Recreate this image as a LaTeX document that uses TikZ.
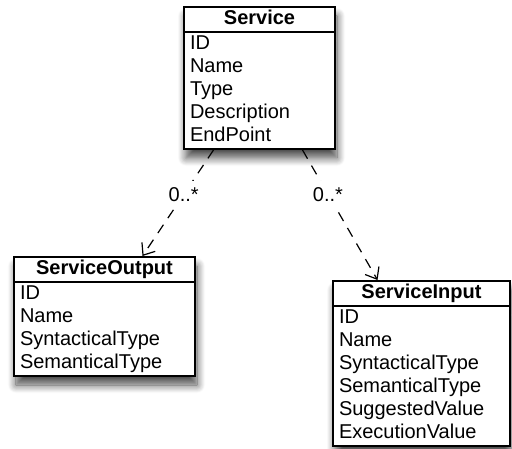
\documentclass[tikz,border=0pt]{standalone}
\usepackage{fontspec}
\setmainfont{Liberation Sans}
\usetikzlibrary{shapes.multipart,positioning,calc,arrows.meta,shadows.blur}

\begin{document}
\begin{tikzpicture}[x=0.5pt,y=-0.5pt,
        classbox/.style={rectangle split, rectangle split parts=2, draw, line width=1pt,
            fill=white, inner xsep=3pt, inner ysep=0pt, anchor=north west, align=left,
            font=\fontsize{10}{11.5}\selectfont,
            blur shadow={shadow xshift=1pt, shadow yshift=-4.5pt, shadow blur radius=4pt,
                shadow blur steps=12, shadow opacity=70}},
        assoc/.style={dash pattern=on 5pt off 4pt, line width=0.6pt, -{Straight Barb[length=5pt,width=8pt]}},
        mult/.style={fill=white, inner sep=3pt, font=\fontsize{10}{12}\selectfont}]
        \useasboundingbox (0,0) rectangle (512,448);
        \node[classbox, text width=69.5pt] (service) at (183,6)
            {\makebox[\linewidth]{\strut\textbf{Service}}\nodepart{two}\strut ID\\Name\\Type\\Description\\EndPoint\strut};
        \node[classbox, text width=84.5pt] (output) at (13,256)
            {\makebox[\linewidth]{\strut\textbf{ServiceOutput}}\nodepart{two}\strut ID\\Name\\SyntacticalType\\SemanticalType\strut};
        \node[classbox, text width=82.5pt] (input) at (332,280)
            {\makebox[\linewidth]{\strut\textbf{ServiceInput}}\nodepart{two}\strut ID\\Name\\SyntacticalType\\SemanticalType\\SuggestedValue\\ExecutionValue\strut};

        \draw[assoc] ($(service.south)+(-46,0)$) -- node[mult, pos=0.42] {0..*} ($(output.north)+(38,0)$);
        \draw[assoc] ($(service.south)+(43,0)$) -- node[mult, pos=0.34] {0..*} ($(input.north)+(-44,0)$);
    \end{tikzpicture}
\end{document}
